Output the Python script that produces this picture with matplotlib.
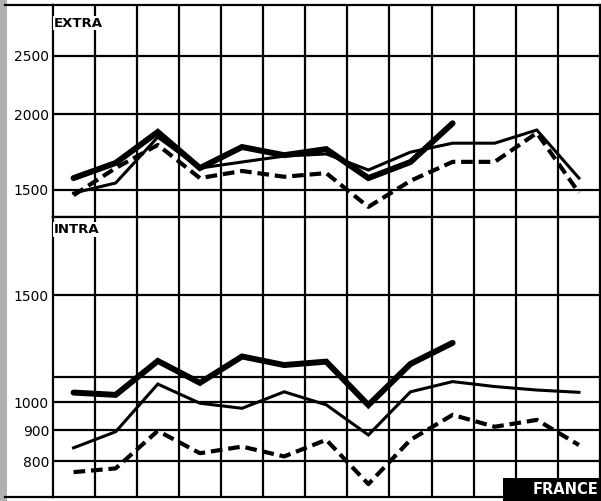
import numpy as np
import matplotlib.pyplot as plt
from matplotlib.patches import Rectangle
from matplotlib.lines import Line2D

# thirteen monthly columns, points sit in the middle of each column
months = np.arange(13)

# EXTRA (exports outside the community), log scale
extra_heavy = [1567, 1660, 1868, 1628, 1764, 1710, 1750, 1567, 1666, 1931]
extra_light = [1480, 1538, 1832, 1628, 1666, 1704, 1718, 1616, 1730, 1790, 1790, 1882, 1567]
extra_dashed = [1468, 1628, 1778, 1567, 1610, 1575, 1597, 1404, 1551, 1667, 1667, 1861, 1482]

# INTRA, log scale
intra_heavy = [1038, 1029, 1170, 1077, 1190, 1152, 1167, 990, 1157, 1253]
intra_light = [842, 895, 1072, 997, 978, 1041, 991, 884, 1041, 1082, 1062, 1048, 1039]
intra_dashed = [768, 779, 898, 825, 846, 815, 868, 734, 868, 954, 912, 936, 851]

extra_ticks = [1500, 2000, 2500]
extra_labels = ["1500", "2000", "2500"]
intra_ticks = [800, 900, 1000, 1100, 1500]
intra_labels = ["800", "900", "1000", "", "1500"]

W, H = 601, 501
fig = plt.figure(figsize=(W / 100, H / 100), dpi=100)
fig.patch.set_facecolor("white")

def px_box(x0, y0, x1, y1):
    # pixel box (top-left origin) -> figure fraction rect
    return [x0 / W, 1 - y1 / H, (x1 - x0) / W, (y1 - y0) / H]

ax_ex = fig.add_axes(px_box(52.5, 5, 600, 217))
ax_in = fig.add_axes(px_box(52.5, 217, 600, 497))

def style(ax, lo, hi, ticks, labels):
    ax.set_yscale("log")
    ax.set_ylim(lo, hi)
    ax.set_xlim(-0.5, 12.5)
    ax.set_yticks(ticks)
    ax.set_yticklabels(labels)
    ax.yaxis.set_minor_locator(plt.NullLocator())
    ax.set_xticks(months[:-1] + 0.5)
    ax.set_xticklabels([])
    ax.tick_params(length=0, pad=2.5, labelsize=10)
    ax.grid(True, color="black", lw=1.6)
    ax.set_axisbelow(True)
    for s in ax.spines.values():
        s.set_linewidth(1.6)

style(ax_ex, 1351, 3031, extra_ticks, extra_labels)
style(ax_in, 699, 2018, intra_ticks, intra_labels)

def draw(ax, heavy, light, dashed):
    ax.plot(months[:len(heavy)], heavy, color="black", lw=4.3,
            solid_joinstyle="miter", solid_capstyle="round", zorder=4)
    ax.plot(months[:len(light)], light, color="black", lw=2.2,
            solid_joinstyle="miter", zorder=4)
    ax.plot(months[:len(dashed)], dashed, color="black", lw=3,
            dashes=(2.8, 1.4), zorder=4)

draw(ax_ex, extra_heavy, extra_light, extra_dashed)
draw(ax_in, intra_heavy, intra_light, intra_dashed)

ax_ex.text(0.002, 0.915, "EXTRA", transform=ax_ex.transAxes, fontsize=9.5,
           fontweight="heavy", va="center", ha="left", zorder=5,
           bbox=dict(facecolor="white", edgecolor="none", pad=0.5))
ax_in.text(0.002, 0.955, "INTRA", transform=ax_in.transAxes, fontsize=9.5,
           fontweight="heavy", va="center", ha="left", zorder=5,
           bbox=dict(facecolor="white", edgecolor="none", pad=0.5))

# outer frame and scan edge on the left
fig.add_artist(Rectangle((0, 0), 7 / W, 1, transform=fig.transFigure,
                         facecolor="#b0b0b0", edgecolor="none"))
for y in (5, 497):
    fig.add_artist(Line2D([5 / W, 52.5 / W], [1 - y / H, 1 - y / H],
                          transform=fig.transFigure, color="black", lw=1.6))

# country tag bottom right
fig.add_artist(Rectangle((503 / W, 0), 98 / W, 23 / H, transform=fig.transFigure,
                         facecolor="black", edgecolor="none", zorder=10))
fig.text(598 / W, 1 - 489 / H, "FRANCE", color="white",
         fontsize=10.5, fontweight="bold", ha="right", va="center", zorder=11)

fig.savefig("out.png", dpi=100)
